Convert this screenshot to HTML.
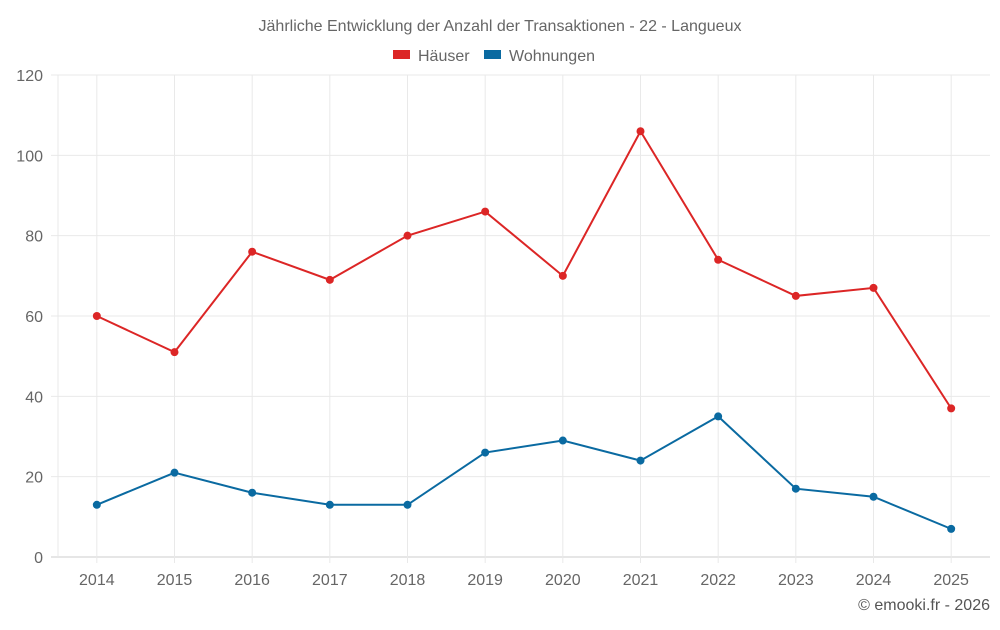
<!DOCTYPE html>
<html><head><meta charset="utf-8"><style>
body{margin:0;background:#fff;font-family:"Liberation Sans",sans-serif}
svg text{font-family:"Liberation Sans",sans-serif}
</style></head><body>
<svg id="c" width="1000" height="625">
<text x="500" y="31" text-anchor="middle" font-size="16" fill="#666">Jährliche Entwicklung der Anzahl der Transaktionen - 22 - Langueux</text>
<g>
<rect x="393" y="50" width="17" height="9" fill="#dc2626"/>
<text x="418" y="61" font-size="16" fill="#666">Häuser</text>
<rect x="484" y="50" width="17" height="9" fill="#0a6aa1"/>
<text x="509" y="61" font-size="16" fill="#666">Wohnungen</text>
</g>
<g id="grid"></g><g id="axes"></g><g id="series"></g>
<text x="990" y="610" text-anchor="end" font-size="16" fill="#555">© emooki.fr - 2026</text>
</svg>
<script>
const categories=["2014","2015","2016","2017","2018","2019","2020","2021","2022","2023","2024","2025"];
const haeuser=[60,51,76,69,80,86,70,106,74,65,67,37];
const wohnungen=[13,21,16,13,13,26,29,24,35,17,15,7];
const yTicks=[0,20,40,60,80,100,120];
const NS="http://www.w3.org/2000/svg";
const L=58,R=990,T=75,B=557,yMax=120;
const step=(R-L)/categories.length;
const x=i=>L+step*(i+0.5);
const y=v=>B-(v/yMax)*(B-T);
function mk(t,a,p){const e=document.createElementNS(NS,t);for(const k in a)e.setAttribute(k,a[k]);p.appendChild(e);return e;}
const g=document.getElementById('grid'),ax=document.getElementById('axes'),s=document.getElementById('series');
yTicks.forEach(v=>{
 const l=mk('line',{x1:51,x2:R,y1:y(v),y2:y(v),stroke:v===0?'#ccc':'#e9e9e9'},g);
 
 
 const t=mk('text',{x:43,y:y(v)+6,'text-anchor':'end','font-size':16,fill:'#666'},ax);
 t.textContent=v;
 
 
});
const l0=mk('line',{x1:L,x2:L,y1:T,y2:B,stroke:'#e9e9e9'},g);


categories.forEach((c,i)=>{
 const l=mk('line',{x1:x(i),x2:x(i),y1:T,y2:B+6,stroke:'#e9e9e9'},g);
 
 
 const t=mk('text',{x:x(i),y:585,'text-anchor':'middle','font-size':16,fill:'#666'},ax);
 t.textContent=c;
 
 
});
function series(data,color,name){
 const p=mk('polyline',{points:data.map((v,i)=>x(i)+','+y(v)).join(' '),fill:'none',stroke:color,'stroke-width':2},s);
 
 
 data.forEach((v,i)=>{
  const c=mk('circle',{cx:x(i),cy:y(v),r:4,fill:color},s);
  
  
 });
}
series(haeuser,'#dc2626','haeuser');
series(wohnungen,'#0a6aa1','wohnungen');
</script>
</body></html>
